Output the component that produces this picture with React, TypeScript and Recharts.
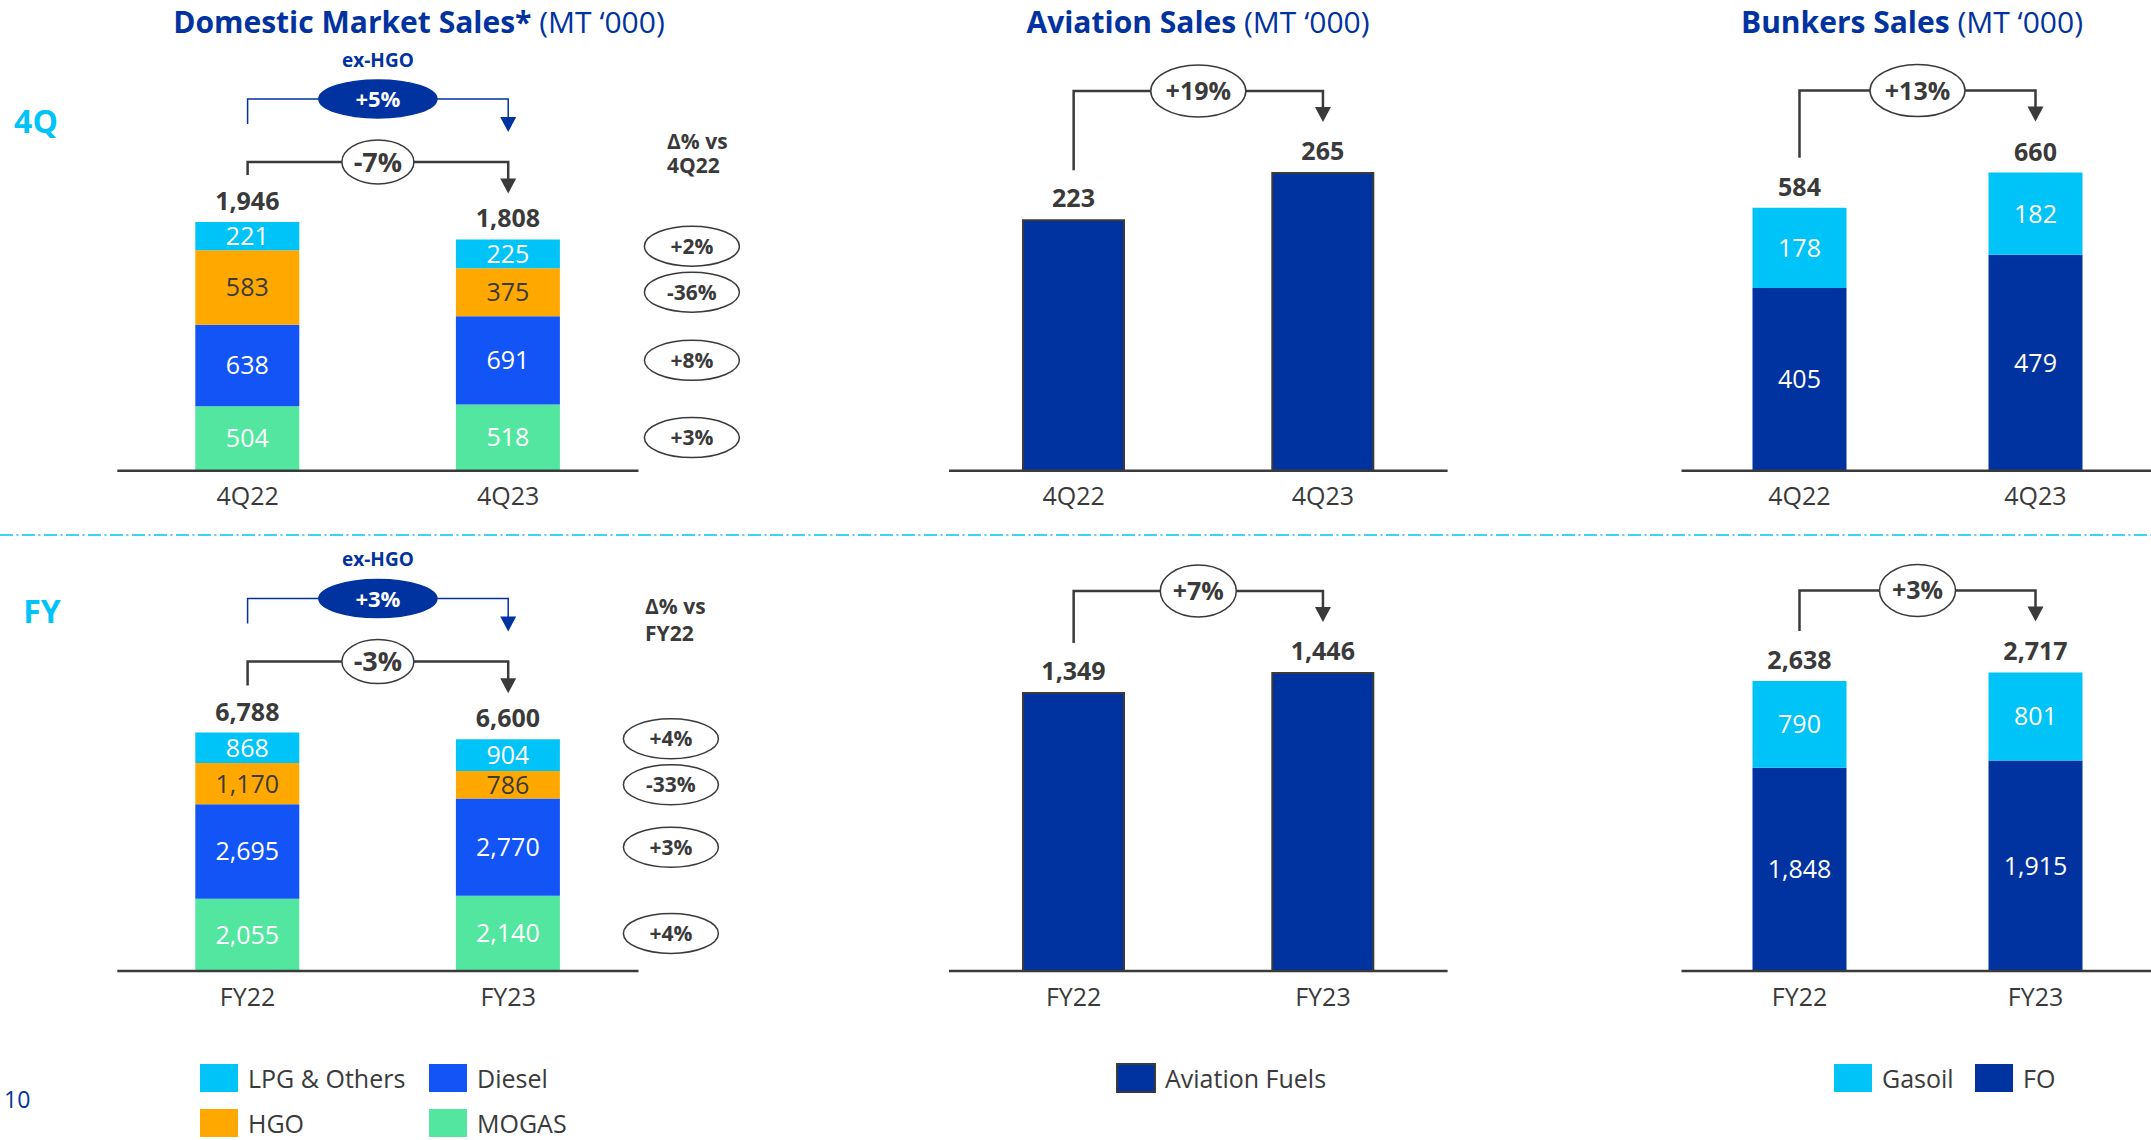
import React from 'react';
import { BarChart, Bar, XAxis, YAxis, LabelList, ReferenceLine } from 'recharts';

const FONT = '"Open Sans", "Noto Sans", sans-serif';
const DARK_BLUE = '#0033A0';
const CYAN = '#00C3F7';
const INK = '#3a3a3a';

// categories
const quarterCats = ['4Q22', '4Q23'];
const yearCats = ['FY22', 'FY23'];

// Domestic market sales, MT '000 (bottom to top: MOGAS, Diesel, HGO, LPG & Others)
const domQuarterMogas = [504, 518];
const domQuarterDiesel = [638, 691];
const domQuarterHgo = [583, 375];
const domQuarterLpg = [221, 225];
const domQuarterTotals = [1946, 1808];
const domQuarterDeltas = ['+3%', '+8%', '-36%', '+2%'];
const domQuarterChange = '-7%';
const domQuarterExHgo = '+5%';

const domYearMogas = [2055, 2140];
const domYearDiesel = [2695, 2770];
const domYearHgo = [1170, 786];
const domYearLpg = [868, 904];
const domYearTotals = [6788, 6600];
const domYearDeltas = ['+4%', '+3%', '-33%', '+4%'];
const domYearChange = '-3%';
const domYearExHgo = '+3%';

// Aviation sales
const aviQuarter = [223, 265];
const aviQuarterChange = '+19%';
const aviYear = [1349, 1446];
const aviYearChange = '+7%';

// Bunkers sales (bottom: FO, top: Gasoil)
const bunQuarterFo = [405, 479];
const bunQuarterGasoil = [178, 182];
const bunQuarterTotals = [584, 660];
const bunQuarterChange = '+13%';
const bunYearFo = [1848, 1915];
const bunYearGasoil = [790, 801];
const bunYearTotals = [2638, 2717];
const bunYearChange = '+3%';

const domesticKeys = ['mogas', 'diesel', 'hgo', 'lpg'];
const domesticColors: Record<string, string> = {
  mogas: '#52E6A0',
  diesel: '#1254F5',
  hgo: '#FFA900',
  lpg: '#00C3F7',
};

const fmt = (v: any) => Number(v).toLocaleString('en-US');

const AXIS_H = 40;
const ROW_Q = { top: 0, height: 540, baseline: 470.7 };
const ROW_Y = { top: 540, height: 540, baseline: 971 };

const COL_DOM = { left: 0, width: 760, plotLeft: 117.3, plotRight: 638.5, barSize: 104 };
const COL_AVI = { left: 880, width: 600, plotLeft: 949, plotRight: 1447.6, barSize: 101 };
const COL_BUN = { left: 1600, width: 560, plotLeft: 1681.5, plotRight: 2153.5, barSize: 94 };

const getMargins = (col: any, row: any, domainMax: number, pxPerUnit: number) => ({
  left: col.plotLeft - col.left,
  right: col.left + col.width - col.plotRight,
  top: row.baseline - domainMax * pxPerUnit - row.top,
  bottom: row.top + row.height - row.baseline - AXIS_H,
});

type BracketOpts = {
  label: string;
  gap: number;
  leftFromBar?: number;
  leftLen?: number;
  arrowFromBar?: number;
  arrowLen?: number;
  rx: number;
  ry: number;
  fontSize: number;
  color: string;
  lineWidth: number;
  fill: string;
  edge: string;
  textColor: string;
  tag?: string;
};

const makeBracket = (o: BracketOpts) => (p: any) => {
  const { x1, y1, x2, y2 } = p;
  if (x1 == null || y1 == null) return <g />;
  const by = Math.min(y1, y2) - o.gap;
  const leftEnd = o.leftFromBar != null ? y1 - o.leftFromBar : by + (o.leftLen || 0);
  const tip = o.arrowFromBar != null ? y2 - o.arrowFromBar : by + (o.arrowLen || 0);
  const mx = (x1 + x2) / 2;
  const head = 15;
  return (
    <g>
      <polyline
        points={`${x1},${leftEnd} ${x1},${by} ${x2},${by} ${x2},${tip - head + 1}`}
        fill="none"
        stroke={o.color}
        strokeWidth={o.lineWidth}
      />
      <polygon points={`${x2 - 8},${tip - head} ${x2 + 8},${tip - head} ${x2},${tip}`} fill={o.color} />
      <ellipse cx={mx} cy={by} rx={o.rx} ry={o.ry} fill={o.fill} stroke={o.edge} strokeWidth={1.5} />
      <text x={mx} y={by} dy="0.36em" textAnchor="middle" fontSize={o.fontSize} fontWeight={700} fill={o.textColor}>
        {o.label}
      </text>
      {o.tag && (
        <text x={mx} y={by - 39} dy="0.36em" textAnchor="middle" fontSize={19} fontWeight={700} fill={o.color}>
          {o.tag}
        </text>
      )}
    </g>
  );
};

const makePill = (text: string, dx: number, own?: number[], next?: number[]) => (p: any) => {
  if (p.index !== 1) return null;
  const vb = p.viewBox || p;
  const { x, y, width, height } = vb;
  let cy = y + height / 2;
  if (own && next) {
    const k = height / own[p.index];
    const nextCenter = y + height + (next[p.index] * k) / 2;
    cy = Math.min(cy, nextCenter - 46);
  }
  const cx = x + width + dx;
  return (
    <g>
      <ellipse cx={cx} cy={cy} rx={47.5} ry={20} fill="#fff" stroke={INK} strokeWidth={1.5} />
      <text x={cx} y={cy} dy="0.36em" textAnchor="middle" fontSize={21} fontWeight={700} fill={INK}>
        {text}
      </text>
    </g>
  );
};

const axisProps = {
  dataKey: 'cat',
  axisLine: { stroke: INK, strokeWidth: 2.5 },
  tickLine: false,
  tickMargin: 11,
  interval: 0 as const,
  height: AXIS_H,
  tick: { fill: INK, fontSize: 25 },
};

function DomesticChart({ cats, mogas, diesel, hgo, lpg, totals, deltas, change, exHgo, row, domainMax, pxPerUnit, darkGap, pillDx }: any) {
  const data = cats.map((cat: string, i: number) => ({
    cat,
    mogas: mogas[i],
    diesel: diesel[i],
    hgo: hgo[i],
    lpg: lpg[i],
    total: totals[i],
    top: mogas[i] + diesel[i] + hgo[i] + lpg[i],
  }));
  return (
    <div style={{ position: 'absolute', left: COL_DOM.left, top: row.top }}>
      <BarChart
        width={COL_DOM.width}
        height={row.height}
        data={data}
        margin={getMargins(COL_DOM, row, domainMax, pxPerUnit)}
      >
        <XAxis {...axisProps} />
        <YAxis hide domain={[0, domainMax]} />
        {domesticKeys.map((key, si) => (
          <Bar
            key={key}
            dataKey={key}
            stackId="a"
            fill={domesticColors[key]}
            barSize={COL_DOM.barSize}
            isAnimationActive={false}
          >
            <LabelList
              dataKey={key}
              position="center"
              fill={key === 'hgo' ? INK : '#fff'}
              fontSize={25}
              formatter={fmt}
            />
            <LabelList
              dataKey={key}
              content={makePill(
                deltas[si],
                pillDx,
                key === 'lpg' ? lpg : undefined,
                key === 'lpg' ? hgo : undefined
              )}
            />
            {key === 'lpg' && (
              <LabelList dataKey="total" position="top" offset={12} fill={INK} fontSize={25} fontWeight={700} formatter={fmt} />
            )}
          </Bar>
        ))}
        <ReferenceLine
          segment={[{ x: cats[0], y: data[0].top }, { x: cats[1], y: data[1].top }]}
          ifOverflow="visible"
          shape={makeBracket({
            label: exHgo,
            gap: darkGap + 63,
            leftLen: 25,
            arrowLen: 33,
            rx: 59,
            ry: 19,
            fontSize: 22,
            color: DARK_BLUE,
            lineWidth: 1.5,
            fill: DARK_BLUE,
            edge: DARK_BLUE,
            textColor: '#fff',
            tag: 'ex-HGO',
          })}
        />
        <ReferenceLine
          segment={[{ x: cats[0], y: data[0].top }, { x: cats[1], y: data[1].top }]}
          ifOverflow="visible"
          shape={makeBracket({
            label: change,
            gap: darkGap,
            leftFromBar: 47,
            arrowFromBar: 46,
            rx: 36,
            ry: 22,
            fontSize: 27,
            color: INK,
            lineWidth: 2.5,
            fill: '#fff',
            edge: INK,
            textColor: INK,
          })}
        />
      </BarChart>
    </div>
  );
}

const sideBracket = (label: string) =>
  makeBracket({
    label,
    gap: 82,
    leftFromBar: 50,
    arrowFromBar: 51,
    rx: 9.5 * label.length + 9.5,
    ry: 26,
    fontSize: 25,
    color: INK,
    lineWidth: 2.5,
    fill: '#fff',
    edge: INK,
    textColor: INK,
  });

function AviationChart({ cats, values, change, row, domainMax, pxPerUnit }: any) {
  const data = cats.map((cat: string, i: number) => ({ cat, value: values[i] }));
  return (
    <div style={{ position: 'absolute', left: COL_AVI.left, top: row.top }}>
      <BarChart width={COL_AVI.width} height={row.height} data={data} margin={getMargins(COL_AVI, row, domainMax, pxPerUnit)}>
        <XAxis {...axisProps} />
        <YAxis hide domain={[0, domainMax]} />
        <Bar dataKey="value" fill={DARK_BLUE} stroke={INK} strokeWidth={2} barSize={COL_AVI.barSize} isAnimationActive={false}>
          <LabelList dataKey="value" position="top" offset={13} fill={INK} stroke="none" fontSize={25} fontWeight={700} formatter={fmt} />
        </Bar>
        <ReferenceLine
          segment={[{ x: cats[0], y: values[0] }, { x: cats[1], y: values[1] }]}
          ifOverflow="visible"
          shape={sideBracket(change)}
        />
      </BarChart>
    </div>
  );
}

function BunkersChart({ cats, fo, gasoil, totals, change, row, domainMax, pxPerUnit }: any) {
  const data = cats.map((cat: string, i: number) => ({
    cat,
    fo: fo[i],
    gasoil: gasoil[i],
    total: totals[i],
    top: fo[i] + gasoil[i],
  }));
  return (
    <div style={{ position: 'absolute', left: COL_BUN.left, top: row.top }}>
      <BarChart width={COL_BUN.width} height={row.height} data={data} margin={getMargins(COL_BUN, row, domainMax, pxPerUnit)}>
        <XAxis {...axisProps} />
        <YAxis hide domain={[0, domainMax]} />
        <Bar dataKey="fo" stackId="b" fill={DARK_BLUE} barSize={COL_BUN.barSize} isAnimationActive={false}>
          <LabelList dataKey="fo" position="center" fill="#fff" fontSize={25} formatter={fmt} />
        </Bar>
        <Bar dataKey="gasoil" stackId="b" fill={CYAN} barSize={COL_BUN.barSize} isAnimationActive={false}>
          <LabelList dataKey="gasoil" position="center" fill="#fff" fontSize={25} formatter={fmt} />
          <LabelList dataKey="total" position="top" offset={12} fill={INK} fontSize={25} fontWeight={700} formatter={fmt} />
        </Bar>
        <ReferenceLine
          segment={[{ x: cats[0], y: data[0].top }, { x: cats[1], y: data[1].top }]}
          ifOverflow="visible"
          shape={sideBracket(change)}
        />
      </BarChart>
    </div>
  );
}

const domesticLegend = [
  { name: 'LPG & Others', color: domesticColors.lpg, x: 200, y: 1064 },
  { name: 'Diesel', color: domesticColors.diesel, x: 429, y: 1064 },
  { name: 'HGO', color: domesticColors.hgo, x: 200, y: 1109 },
  { name: 'MOGAS', color: domesticColors.mogas, x: 429, y: 1109 },
];
const otherLegend = [
  { name: 'Aviation Fuels', color: DARK_BLUE, x: 1117, y: 1064, outline: true },
  { name: 'Gasoil', color: CYAN, x: 1834, y: 1064 },
  { name: 'FO', color: DARK_BLUE, x: 1975, y: 1064 },
];

function Title({ x, bold, rest }: { x: number; bold: string; rest: string }) {
  return (
    <text x={x} y={22} dy="0.36em" textAnchor="middle" fontSize={30} fill={DARK_BLUE}>
      <tspan fontWeight={700}>{bold}</tspan>
      <tspan> {rest}</tspan>
    </text>
  );
}

export default function App() {
  return (
    <div
      style={{
        position: 'absolute',
        left: 0,
        top: 0,
        width: 2151,
        height: 1140,
        overflow: 'hidden',
        background: '#fff',
        fontFamily: FONT,
      }}
    >
      <svg width={2151} height={1140} style={{ position: 'absolute', left: 0, top: 0 }}>
        <Title x={419} bold="Domestic Market Sales*" rest="(MT ‘000)" />
        <Title x={1198} bold="Aviation Sales" rest="(MT ‘000)" />
        <Title x={1912} bold="Bunkers Sales" rest="(MT ‘000)" />

        <text x={36} y={121.7} dy="0.36em" textAnchor="middle" fontSize={32} fontWeight={700} fill={CYAN}>4Q</text>
        <text x={42} y={611.7} dy="0.36em" textAnchor="middle" fontSize={32} fontWeight={700} fill={CYAN}>FY</text>

        <text x={667} y={141.7} dy="0.36em" fontSize={21} fontWeight={700} fill={INK}>Δ% vs</text>
        <text x={667} y={165.7} dy="0.36em" fontSize={21} fontWeight={700} fill={INK}>4Q22</text>
        <text x={645} y={606} dy="0.36em" fontSize={21} fontWeight={700} fill={INK}>Δ% vs</text>
        <text x={645} y={633} dy="0.36em" fontSize={21} fontWeight={700} fill={INK}>FY22</text>

        <line x1={0} y1={535} x2={2151} y2={535} stroke={CYAN} strokeWidth={1.5} strokeDasharray="13 3.5 2 3.5" />

        {[...domesticLegend, ...otherLegend].map((l: any) => (
          <g key={l.name}>
            <rect
              x={l.x}
              y={l.y}
              width={38}
              height={28}
              fill={l.color}
              stroke={l.outline ? INK : 'none'}
              strokeWidth={l.outline ? 2 : 0}
            />
            <text x={l.x + 48} y={l.y + 15} dy="0.36em" fontSize={25} fill={INK}>
              {l.name}
            </text>
          </g>
        ))}

        <text x={4} y={1100} dy="0.36em" fontSize={23} fill={DARK_BLUE}>10</text>
      </svg>

      <DomesticChart
        cats={quarterCats}
        mogas={domQuarterMogas}
        diesel={domQuarterDiesel}
        hgo={domQuarterHgo}
        lpg={domQuarterLpg}
        totals={domQuarterTotals}
        deltas={domQuarterDeltas}
        change={domQuarterChange}
        exHgo={domQuarterExHgo}
        row={ROW_Q}
        domainMax={3000}
        pxPerUnit={0.12785}
        darkGap={60}
        pillDx={132}
      />
      <DomesticChart
        cats={yearCats}
        mogas={domYearMogas}
        diesel={domYearDiesel}
        hgo={domYearHgo}
        lpg={domYearLpg}
        totals={domYearTotals}
        deltas={domYearDeltas}
        change={domYearChange}
        exHgo={domYearExHgo}
        row={ROW_Y}
        domainMax={10000}
        pxPerUnit={0.03512}
        darkGap={71}
        pillDx={111}
      />

      <AviationChart cats={quarterCats} values={aviQuarter} change={aviQuarterChange} row={ROW_Q} domainMax={350} pxPerUnit={1.1233} />
      <AviationChart cats={yearCats} values={aviYear} change={aviYearChange} row={ROW_Y} domainMax={1800} pxPerUnit={0.2061} />

      <BunkersChart
        cats={quarterCats}
        fo={bunQuarterFo}
        gasoil={bunQuarterGasoil}
        totals={bunQuarterTotals}
        change={bunQuarterChange}
        row={ROW_Q}
        domainMax={850}
        pxPerUnit={0.451}
      />
      <BunkersChart
        cats={yearCats}
        fo={bunYearFo}
        gasoil={bunYearGasoil}
        totals={bunYearTotals}
        change={bunYearChange}
        row={ROW_Y}
        domainMax={3500}
        pxPerUnit={0.10993}
      />
    </div>
  );
}
